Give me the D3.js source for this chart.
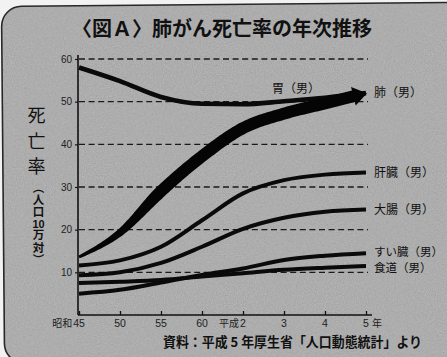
<!DOCTYPE html>
<html><head><meta charset="utf-8">
<script src="https://cdn.jsdelivr.net/npm/d3@7"></script>
<style>
html,body{margin:0;padding:0;background:#f2f2f2;}
#wrap{position:relative;width:447px;height:357px;}
svg{display:block;}
text{font-family:"Noto Sans CJK JP","Noto Sans",sans-serif;}
.vlabel{position:absolute;writing-mode:vertical-rl;font-family:"Noto Sans CJK JP",sans-serif;
  font-weight:700;color:#111;white-space:nowrap;}
.vlabel .tcy{text-combine-upright:all;font-family:"Liberation Sans",Arial,sans-serif;}
</style></head>
<body>
<div id="wrap"><svg id="chart" width="447" height="357"></svg></div>
<script>
// ---- data ----
const xNumbers = ["45","50","55","60","2","3","4","5"];
const xPrefixes = ["昭和","","","","平成 ","","",""];
const xSuffixes = ["","","","","","","","年"];
const yTicks = [10,20,30,40,50,60];

const lung      = [13.6, 19.3, 29.0, 37.2, 43.8, 47.2, 49.6, 52.0];
const stomach   = [58.0, 54.8, 51.1, 49.5, 49.4, 50.1, 50.9, 52.0];
const liver     = [11.6, 12.8, 16.0, 22.2, 28.5, 31.6, 32.9, 33.4];
const colon     = [9.3, 10.0, 12.2, 16.0, 20.2, 22.8, 24.2, 24.7];
const pancreas  = [5.0, 5.9, 7.6, 9.4, 10.9, 12.9, 13.9, 14.5];
const esophagus = [7.5, 7.8, 8.2, 9.0, 9.8, 10.6, 11.1, 11.5];

const seriesNames = ["肺（男）","胃（男）","肝臓（男）","大腸（男）","すい臓（男）","食道（男）"];

const title = "〈図Ａ〉肺がん死亡率の年次推移";
const yLabelMain = ["死","亡","率"];
const yLabelSub = ["（人口","10","万対）"];
const source = "資料：平成 5 年厚生省「人口動態統計」より";

// ---- drawing ----
const svg = d3.select("#chart");

// background panel with grain
const defs = svg.append("defs");
const f = defs.append("filter").attr("id","grain").attr("x",0).attr("y",0).attr("width","100%").attr("height","100%");
f.append("feTurbulence").attr("type","fractalNoise").attr("baseFrequency",0.9).attr("numOctaves",2).attr("seed",3).attr("result","n");
f.append("feColorMatrix").attr("type","matrix")
 .attr("values","0 0 0 0 0  0 0 0 0 0  0 0 0 0 0  0 0 0 0.2 0").attr("in","n").attr("result","a");
f.append("feComposite").attr("in","a").attr("in2","SourceGraphic").attr("operator","in");

const panel = svg.append("g").attr("transform","rotate(-0.5,223,180)");
panel.append("rect").attr("x",3).attr("y",4.5).attr("width",470).attr("height",357)
  .attr("rx",20).attr("fill","#c0c0c0").attr("stroke","#2a2a2a").attr("stroke-width",1.6);
panel.append("rect").attr("x",3).attr("y",4.5).attr("width",470).attr("height",357)
  .attr("rx",20).attr("fill","#c0c0c0").attr("filter","url(#grain)");

const x = d3.scalePoint().domain(d3.range(xNumbers.length)).range([79, 366]);
const y = d3.scaleLinear().domain([0, 60]).range([315, 59]);

// title
svg.append("text").attr("x",222).attr("y",36).attr("text-anchor","middle")
  .attr("font-size",20).attr("font-weight",700).attr("fill","#111").text(title);

// gridlines
svg.append("g").selectAll("line").data(yTicks).join("line")
  .attr("x1",x(0)).attr("x2",368).attr("y1",d=>y(d)).attr("y2",d=>y(d))
  .attr("stroke","#1a1a1a").attr("stroke-width",1.4).attr("stroke-dasharray","6,3.6");

// y axis
const yAxis = d3.axisLeft(y).tickValues(yTicks).tickSize(3).tickPadding(3);
const gy = svg.append("g").attr("transform",`translate(${x(0)-1},0)`).call(yAxis);
gy.select(".domain").remove();
gy.selectAll("text").attr("font-size",10).attr("fill","#222").style("font-family","Liberation Sans, Arial, sans-serif");
gy.selectAll(".tick line").attr("stroke","#1a1a1a").attr("stroke-width",1.2);
svg.append("line").attr("x1",x(0)-1).attr("x2",x(0)-1).attr("y1",55).attr("y2",y(0))
  .attr("stroke","#111").attr("stroke-width",1.6);

// x axis
const xAxis = d3.axisBottom(x).tickSizeInner(-4).tickSizeOuter(0).tickFormat(()=>"");
const gx = svg.append("g").attr("transform",`translate(0,${y(0)})`).call(xAxis);
gx.select(".domain").remove();
gx.selectAll(".tick line").attr("stroke","#111").attr("stroke-width",1.3);
svg.append("line").attr("x1",x(0)-1).attr("x2",x(xNumbers.length-1)+6).attr("y1",y(0)).attr("y2",y(0))
  .attr("stroke","#111").attr("stroke-width",1.6);
const xl = svg.append("g").attr("font-size",10.5).attr("fill","#222");
xNumbers.forEach((n,i)=>{
  xl.append("text").attr("x",x(i)).attr("y",327).attr("text-anchor","middle")
    .style("font-family","Liberation Sans, Arial, sans-serif").text(n);
  const half = n.length*2.9;
  if (xPrefixes[i]) xl.append("text").attr("x",x(i)-half-1).attr("y",327).attr("text-anchor","end")
    .attr("font-size",10).text(xPrefixes[i].trim());
  if (xSuffixes[i]) xl.append("text").attr("x",x(i)+half+3).attr("y",327).attr("text-anchor","start")
    .attr("font-size",10).text(xSuffixes[i]);
});

// y label
yLabelMain.forEach((c,i)=>{
  svg.append("text").attr("x",36.5).attr("y",122+i*25.5).attr("text-anchor","middle")
    .attr("font-size",18).attr("fill","#111").text(c);
});
const vdiv = d3.select("#wrap").append("div").attr("class","vlabel")
  .style("left","31.5px").style("top","182px").style("font-size","11.5px")
  .style("line-height","14px").style("width","14px").style("letter-spacing","0.6px");
vdiv.append("span").text(yLabelSub[0]);
vdiv.append("span").attr("class","tcy").style("font-size","11px").text(yLabelSub[1]);
vdiv.append("span").text(yLabelSub[2]);

// lines
const line = d3.line().x((d,i)=>x(i)).y(d=>y(d)).curve(d3.curveMonotoneX);
const thin = [[liver,4],[colon,4],[pancreas,4],[esophagus,4],[stomach,4.6]];
thin.forEach(([s,w])=>{
  svg.append("path").attr("d",line(s)).attr("fill","none").attr("stroke","#0a0a0a").attr("stroke-width",w);
});

// lung: tapered band with arrow head
const guide = svg.append("path").attr("d",line(lung)).attr("fill","none").attr("stroke","none");
const node = guide.node();
const L = node.getTotalLength();
const headLen = 13, headW = 19, w0 = 3, w1 = 12;
const bodyEnd = L - headLen;
const pt = s => node.getPointAtLength(Math.max(0,Math.min(L,s)));
const normalAt = s => {
  const a = pt(s-0.8), b = pt(s+0.8);
  const dx = b.x-a.x, dy = b.y-a.y, len = Math.hypot(dx,dy)||1;
  return [-dy/len, dx/len];
};
const left = [], right = [];
const N = 160;
for (let k=0;k<=N;k++){
  const s = bodyEnd*k/N;
  const p = pt(s), n = normalAt(s);
  const w = w0 + (w1-w0)*Math.min(1, s/(0.3*L));
  left.push([p.x+n[0]*w/2, p.y+n[1]*w/2]);
  right.push([p.x-n[0]*w/2, p.y-n[1]*w/2]);
}
const pb = pt(bodyEnd), nb = normalAt(bodyEnd), tip = pt(L);
const poly = left.concat([[pb.x+nb[0]*headW/2, pb.y+nb[1]*headW/2],[tip.x+1,tip.y],[pb.x-nb[0]*headW/2, pb.y-nb[1]*headW/2]], right.reverse());
svg.append("path").attr("d","M"+poly.map(p=>p.join(",")).join("L")+"Z").attr("fill","#050505");

// series labels
const lab = svg.append("g").attr("font-size",12).attr("fill","#111");
const last = xNumbers.length-1;
const ends = [lung, null, liver, colon, pancreas, esophagus];
const nudge = [0, 0, 0, 0, -1.5, 1.5];
ends.forEach((s,i)=>{
  if (!s) return;
  lab.append("text").attr("x",x(last)+8).attr("y",y(s[last])+nudge[i]).attr("dy","0.36em")
    .attr("font-size", i>=4 ? 11.5 : 12).text(seriesNames[i]);
});
lab.append("text").attr("x",x(5)-12).attr("y",y(stomach[5])-13).attr("dy","0.36em").text(seriesNames[1]);

// source
svg.append("text").attr("x",163).attr("y",347)
  .attr("font-size",13.5).attr("font-weight",700).attr("fill","#111")
  .attr("textLength",259).attr("lengthAdjust","spacingAndGlyphs").text(source);
</script>
</body></html>
